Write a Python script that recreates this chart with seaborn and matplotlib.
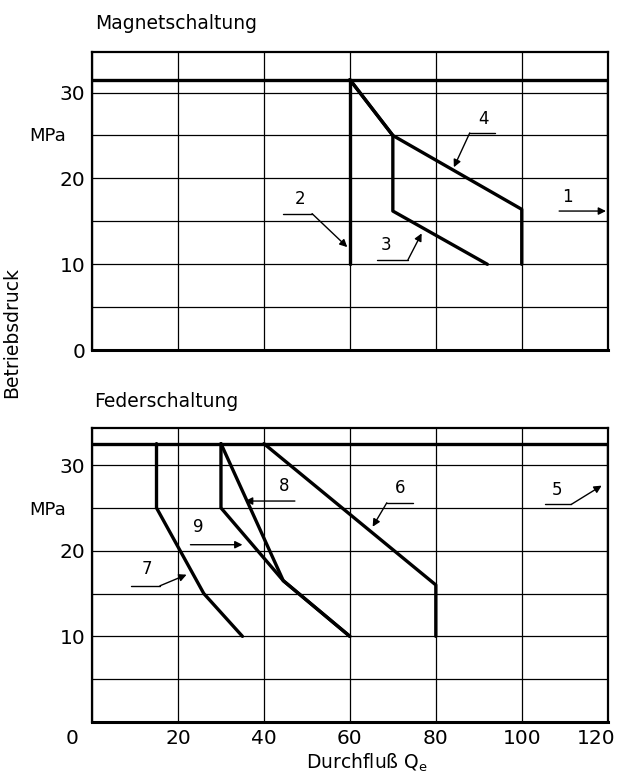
import matplotlib
matplotlib.use("Agg")
import matplotlib.pyplot as plt
import matplotlib.transforms as mtransforms
import seaborn as sns

# Magnetschaltung (solenoid switching) curves: flow Qe vs. operating pressure (MPa)
mag_1_x = [0, 120, 120]
mag_1_y = [31.5, 31.5, 10]
mag_2_x = [60, 60]
mag_2_y = [31.5, 10]
mag_3_x = [60, 70, 70, 92]
mag_3_y = [31.5, 25, 16.2, 10]
mag_4_x = [60, 70, 100, 100]
mag_4_y = [31.5, 25, 16.4, 10]

# Federschaltung (spring switching) curves
fed_5_x = [0, 120, 120]
fed_5_y = [32.5, 32.5, 10]
fed_6_x = [40, 80, 80]
fed_6_y = [32.5, 16, 10]
fed_7_x = [15, 15, 26, 35]
fed_7_y = [32.5, 25, 15, 10]
fed_8_x = [30, 44.5, 60]
fed_8_y = [32.5, 16.5, 10]
fed_9_x = [30, 30, 44.5, 60]
fed_9_y = [32.5, 25, 16.5, 10]

x_ticks = [0, 20, 40, 60, 80, 100, 120]
y_ticks = [0, 5, 10, 15, 20, 25, 30]

sns.set_theme(style="white")
plt.rcParams['font.family'] = ['DejaVu Sans']
plt.rcParams['mathtext.fontset'] = 'dejavusans'
plt.rcParams['text.color'] = 'black'

fig = plt.figure(figsize=(6.22, 7.73), dpi=100)
ax1 = fig.add_axes([0.148, 0.547, 0.829, 0.3855])
ax2 = fig.add_axes([0.148, 0.066, 0.829, 0.380])

line_kw = dict(color='black', lw=2.4, sort=False, estimator=None, legend=False)

for xs, ys in [(mag_1_x, mag_1_y), (mag_2_x, mag_2_y), (mag_3_x, mag_3_y), (mag_4_x, mag_4_y)]:
    sns.lineplot(x=xs, y=ys, ax=ax1, **line_kw)
for xs, ys in [(fed_5_x, fed_5_y), (fed_6_x, fed_6_y), (fed_7_x, fed_7_y),
               (fed_8_x, fed_8_y), (fed_9_x, fed_9_y)]:
    sns.lineplot(x=xs, y=ys, ax=ax2, **line_kw)

for ax, top in [(ax1, 34.7), (ax2, 34.3)]:
    ax.set_xlim(0, 120)
    ax.set_ylim(0, top)
    ax.set_xticks(x_ticks)
    ax.set_yticks(y_ticks)
    ax.grid(True, color='black', lw=0.9)
    ax.tick_params(length=0, labelsize=14.5, pad=5, colors='black')
    for s in ax.spines.values():
        s.set_color('black')
        s.set_linewidth(1.6)
    ax.spines['bottom'].set_linewidth(2.2)
    ax.set_xlabel('')
    ax.set_ylabel('')

ax1.set_yticklabels(['0', '', '10', '', '20', '', '30'])
ax1.set_xticklabels([])
ax2.set_yticklabels(['', '', '10', '', '20', '', '30'])
ax2.set_xticklabels(['', '20', '40', '60', '80', '100', '120'])
# the scan places "120" slightly left of its grid line
last = ax2.get_xticklabels()[-1]
last.set_transform(last.get_transform() + mtransforms.ScaledTranslation(-8 / 72, 0, fig.dpi_scale_trans))
ax2.text(-4.6, -0.8, '0', fontsize=14.5, ha='center', va='top', transform=ax2.transData)

fig.text(0.076, 0.824, 'MPa', fontsize=13, ha='center', va='center')
fig.text(0.076, 0.340, 'MPa', fontsize=13, ha='center', va='center')
fig.text(0.153, 0.970, 'Magnetschaltung', fontsize=13.5, ha='left', va='center')
fig.text(0.151, 0.480, 'Federschaltung', fontsize=13.5, ha='left', va='center')
fig.text(0.019, 0.570, 'Betriebsdruck', fontsize=13.5, rotation=90, ha='center', va='center')
fig.text(0.59, 0.013, 'Durchfluß Q$_\\mathregular{e}$', fontsize=13.5, ha='center', va='center')

arrow = dict(arrowstyle='-|>', color='black', lw=1.0, mutation_scale=11, shrinkA=0, shrinkB=0)


def label(ax, num, text_xy, line_x=None, line_y=None, start=None, tip=None):
    ax.text(text_xy[0], text_xy[1], num, fontsize=12, ha='center', va='center')
    if line_x is not None:
        ax.plot(line_x, [line_y, line_y], color='black', lw=1.0)
    if start is not None:
        ax.annotate('', xy=tip, xytext=start, arrowprops=arrow)


# leader lines, top panel
label(ax1, '1', (110.7, 17.8), start=(108.7, 16.2), tip=(119.6, 16.2))
label(ax1, '2', (48.4, 17.6), [44.4, 51.2], 15.9, (51.2, 15.9), (59.4, 12.0))
label(ax1, '3', (68.3, 12.3), [66.3, 73.5], 10.5, (73.5, 10.5), (76.7, 13.6))
label(ax1, '4', (91.2, 26.9), [87.9, 93.7], 25.3, (87.9, 25.3), (84.2, 21.3))

# leader lines, bottom panel
label(ax2, '5', (108.3, 27.1), [105.5, 111.5], 25.4, (111.5, 25.4), (118.6, 27.6))
label(ax2, '6', (71.8, 27.3), [68.6, 74.6], 25.6, (68.6, 25.6), (65.3, 22.8))
label(ax2, '8', (44.6, 27.5), start=(47.2, 25.8), tip=(35.6, 25.8))
label(ax2, '9', (24.7, 22.8), start=(22.9, 20.7), tip=(35.0, 20.7))
label(ax2, '7', (12.7, 17.9), [9.0, 15.8], 15.9, (15.8, 15.9), (22.0, 17.2))

fig.savefig('out.png', dpi=100, facecolor='white')
